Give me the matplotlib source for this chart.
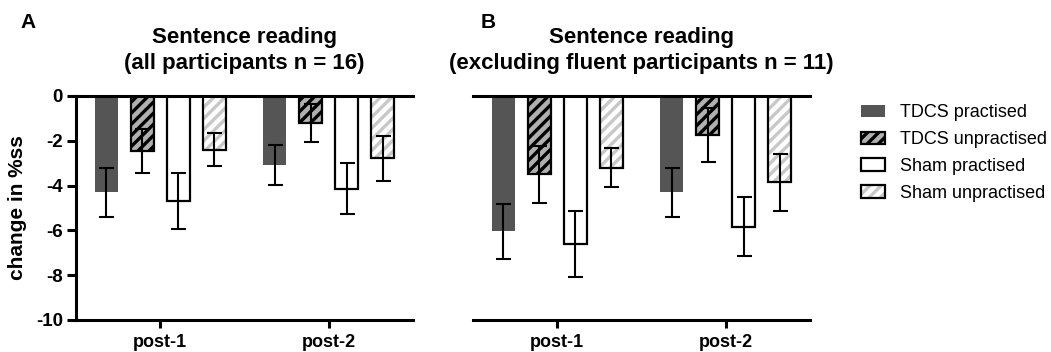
import matplotlib
matplotlib.use("Agg")
import matplotlib.pyplot as plt
import numpy as np
from matplotlib.patches import Patch
from matplotlib.legend_handler import HandlerTuple

plt.rcParams['font.family'] = ['Liberation Sans', 'DejaVu Sans']
plt.rcParams['hatch.linewidth'] = 2.4

sessions = ["post-1", "post-2"]
conditions = ["TDCS practised", "TDCS unpractised", "Sham practised", "Sham unpractised"]

# Panel A: all participants (n = 16)
a_tdcs_prac = [-4.3, -3.08]
a_tdcs_unprac = [-2.45, -1.19]
a_sham_prac = [-4.7, -4.14]
a_sham_unprac = [-2.4, -2.78]
a_err_tdcs_prac = [1.1, 0.89]
a_err_tdcs_unprac = [0.97, 0.85]
a_err_sham_prac = [1.25, 1.13]
a_err_sham_unprac = [0.73, 1.0]

# Panel B: excluding fluent participants (n = 11)
b_tdcs_prac = [-6.03, -4.3]
b_tdcs_unprac = [-3.5, -1.74]
b_sham_prac = [-6.62, -5.83]
b_sham_unprac = [-3.2, -3.85]
b_err_tdcs_prac = [1.23, 1.08]
b_err_tdcs_unprac = [1.29, 1.2]
b_err_sham_prac = [1.47, 1.33]
b_err_sham_unprac = [0.88, 1.28]

titles_a = ["Sentence reading", "(all participants n = 16)"]
titles_b = ["Sentence reading", "(excluding fluent participants n = 11)"]

W, H = 1051, 352
fig = plt.figure(figsize=(W / 100, H / 100), dpi=100)

DARK = '#555555'
STRIPE_DARK_BG = '#b0b0b0'
LIGHT_STRIPE = '#c8c8c8'
LW = 2.2
BAR_W = 0.137
STEP = 0.214

styles = [
    dict(face=DARK, hatch=None, hatchcol=None, edge=DARK),
    dict(face=STRIPE_DARK_BG, hatch='///', hatchcol='black', edge='black'),
    dict(face='white', hatch=None, hatchcol=None, edge='black'),
    dict(face='white', hatch='///', hatchcol=LIGHT_STRIPE, edge='black'),
]


def draw_bars(ax, x, vals, errs, st):
    if st['hatch'] is not None and st['hatchcol'] != st['edge']:
        ax.bar(x, vals, BAR_W, color=st['face'], edgecolor=st['hatchcol'],
               hatch=st['hatch'], linewidth=0, zorder=2)
        ax.bar(x, vals, BAR_W, fill=False, edgecolor=st['edge'],
               linewidth=1.6, zorder=3)
    elif st['hatch'] is not None:
        ax.bar(x, vals, BAR_W, color=st['face'], edgecolor=st['edge'],
               hatch=st['hatch'], linewidth=1.6, zorder=2)
    else:
        ax.bar(x, vals, BAR_W, color=st['face'], edgecolor=st['edge'],
               linewidth=1.6 if st['edge'] == 'black' else 0, zorder=2)
    ax.errorbar(x, vals, yerr=errs, fmt='none', ecolor='black',
                elinewidth=1.5, capsize=5.4, capthick=1.5, zorder=4)


def panel(ax, data, titles, show_y):
    xpos = np.arange(len(sessions))
    for i, ((vals, errs), st) in enumerate(zip(data, styles)):
        draw_bars(ax, xpos + (i - 1.5) * STEP, vals, errs, st)
    ax.set_xlim(-0.5, 1.5)
    ax.set_ylim(-10, 0)
    ax.set_xticks(xpos)
    ax.set_xticklabels(sessions, fontsize=13, fontweight='bold')
    ax.spines['right'].set_visible(False)
    ax.spines['top'].set_linewidth(LW)
    ax.spines['bottom'].set_linewidth(LW)
    ax.spines['top'].set_zorder(5)
    ax.tick_params(axis='x', length=6, width=LW, pad=4)
    if show_y:
        ax.spines['left'].set_linewidth(LW)
        ax.set_yticks(np.arange(-10, 1, 2))
        ax.set_yticklabels([str(v) for v in range(-10, 1, 2)], fontsize=13.5, fontweight='bold')
        ax.tick_params(axis='y', length=6.5, width=LW, pad=3)
        ax.set_ylabel('change in %ss', fontsize=15, fontweight='bold', labelpad=6)
    else:
        ax.spines['left'].set_visible(False)
        ax.set_yticks([])
    bb = ax.get_position()
    xc = (bb.x0 + bb.x1) / 2
    fig.text(xc, 1 - 37 / H, titles[0], fontsize=16, fontweight='bold', ha='center', va='center')
    fig.text(xc, 1 - 63 / H, titles[1], fontsize=16, fontweight='bold', ha='center', va='center')


axA = fig.add_axes([76 / W, 1 - 320 / H, 337 / W, 224 / H])
axB = fig.add_axes([473 / W, 1 - 320 / H, 337 / W, 224 / H])

panel(axA, [(a_tdcs_prac, a_err_tdcs_prac), (a_tdcs_unprac, a_err_tdcs_unprac),
            (a_sham_prac, a_err_sham_prac), (a_sham_unprac, a_err_sham_unprac)],
      titles_a, True)
panel(axB, [(b_tdcs_prac, b_err_tdcs_prac), (b_tdcs_unprac, b_err_tdcs_unprac),
            (b_sham_prac, b_err_sham_prac), (b_sham_unprac, b_err_sham_unprac)],
      titles_b, False)

fig.text(20 / W, 1 - 23 / H, 'A', fontsize=15, fontweight='bold', va='center', ha='left')
fig.text(481 / W, 1 - 23 / H, 'B', fontsize=15, fontweight='bold', va='center', ha='left')

# Legend
handles = [
    Patch(facecolor=DARK, edgecolor=DARK, linewidth=0),
    Patch(facecolor=STRIPE_DARK_BG, edgecolor='black', hatch='///', linewidth=1.6),
    Patch(facecolor='white', edgecolor='black', linewidth=1.6),
    (Patch(facecolor='white', edgecolor=LIGHT_STRIPE, hatch='///', linewidth=0),
     Patch(fill=False, edgecolor='black', linewidth=1.6)),
]
fig.legend(handles, conditions, loc='upper left', bbox_to_anchor=(861 / W, 1 - 104 / H),
           frameon=False, fontsize=13, handlelength=1.33, handleheight=0.66,
           handletextpad=0.83, labelspacing=0.55, borderpad=0, borderaxespad=0,
           handler_map={tuple: HandlerTuple(ndivide=1)})

fig.savefig('out.png', dpi=100)
